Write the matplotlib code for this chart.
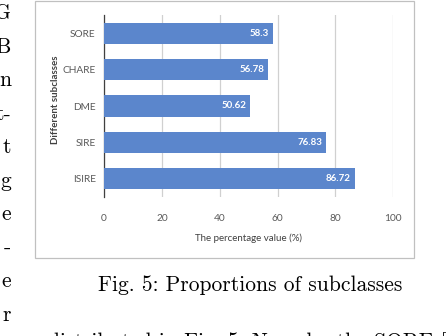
import matplotlib
matplotlib.use("Agg")
import matplotlib.pyplot as plt
from matplotlib.patches import Rectangle

W, H = 446, 336

# chart data, top to bottom as shown
subclasses = ["SORE", "CHARE", "DME", "SIRE", "ISIRE"]
percentages = [58.3, 56.78, 50.62, 76.83, 86.72]
x_ticks = [0, 20, 40, 60, 80, 100]

# surrounding page text
caption = "Fig. 5: Proportions of subclasses"
margin_letters = ["G", "B", "n", "t-", "t", "g", "e", "-", "e", "r"]
margin_baselines = [19, 53, 86, 120, 153, 187, 220, 254, 287, 321]
bottom_line = "distributed in Fig. 5. Namely, the SORE ["

bar_color = "#5b86cc"
text_gray = "#595959"


def fx(px):
    return px / W


def fy(py):
    return 1 - py / H


fig = plt.figure(figsize=(W / 100, H / 100), dpi=100)
fig.patch.set_facecolor("white")

# chart frame
fig.patches.append(Rectangle((fx(35), fy(258)), fx(414) - fx(35), fy(1) - fy(258),
                             transform=fig.transFigure, fill=False,
                             edgecolor="#c0c0c0", linewidth=0.9))

ax = fig.add_axes([fx(104), fy(197), fx(393.3) - fx(104), fy(15) - fy(197)])
ypos = list(range(len(subclasses)))[::-1]
ax.barh(ypos, percentages, height=0.58, color=bar_color, zorder=3)
for y, v in zip(ypos, percentages):
    ax.annotate(f"{v:g}", (v, y), xytext=(-3, 0), textcoords="offset points",
                ha="right", va="center", color="white", fontsize=7,
                fontweight="bold", family="Lato", zorder=4)

ax.set_xlim(0, 100)
ax.set_ylim(-0.5, len(subclasses) - 0.5)
ax.set_xticks(x_ticks)
ax.set_yticks(ypos)
ax.set_yticklabels(subclasses)
ax.grid(axis="x", color="#d0d0d0", linewidth=0.9, zorder=0)
for s in ["top", "right", "bottom"]:
    ax.spines[s].set_visible(False)
ax.spines["left"].set_color("#404040")
ax.spines["left"].set_linewidth(0.9)
ax.tick_params(axis="both", length=0, labelsize=7.3, labelcolor=text_gray, pad=6)
ax.tick_params(axis="x", pad=12)
for lbl in ax.get_xticklabels() + ax.get_yticklabels():
    lbl.set_family("Lato")
ax.set_xlabel("The percentage value (%)", family="Lato", fontsize=7,
              color="#404040", labelpad=8)
ax.set_ylabel("Different subclasses", family="Lato", fontsize=7,
              fontweight="bold", color="#404040")
ax.yaxis.set_label_coords(-(104 - 60) / (393.3 - 104), (197 - 100) / (197 - 15))

# page text around the chart
fig.text(fx(250), fy(285), caption, ha="center", va="center",
         family="cmr10", fontsize=15.5)
for letter, base in zip(margin_letters, margin_baselines):
    fig.text(fx(11), fy(base), letter, ha="right", va="baseline",
             family="cmr10", fontsize=15.5)
fig.text(fx(446), fy(348), bottom_line, ha="right", va="baseline",
         family="cmr10", fontsize=15.5)

fig.savefig("out.png", dpi=100)
